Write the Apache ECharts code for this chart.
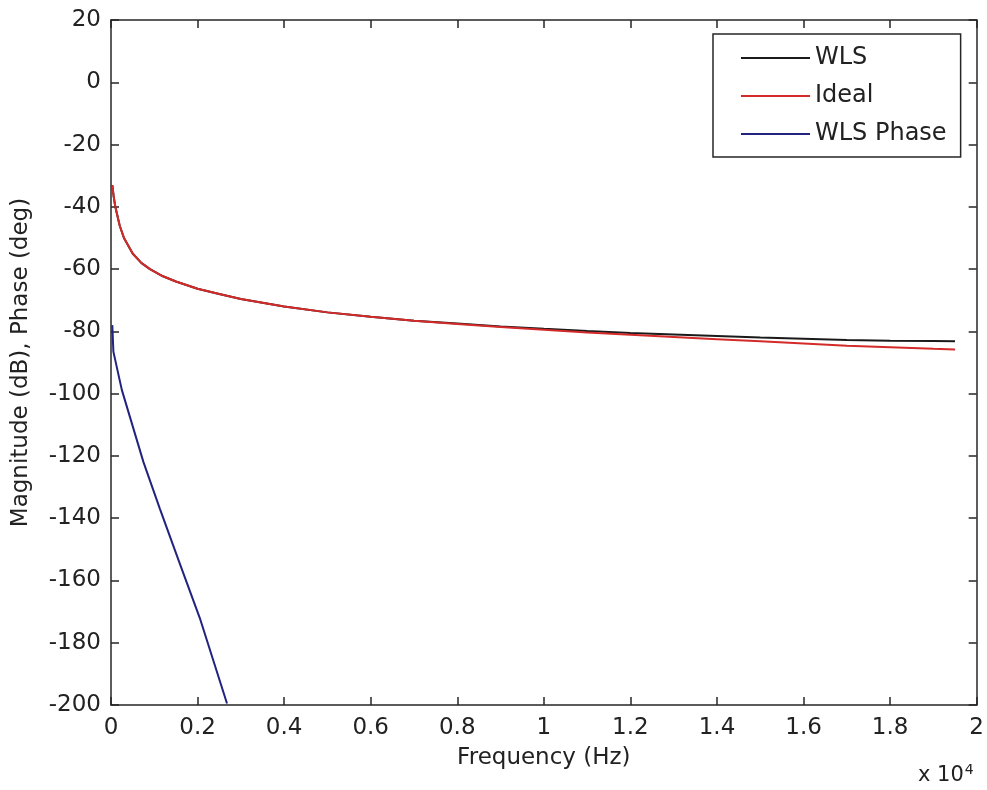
<!DOCTYPE html>
<html>
<head>
<meta charset="utf-8">
<script src="https://cdn.jsdelivr.net/npm/echarts@6/dist/echarts.min.js"></script>
<style>
html,body{margin:0;padding:0;background:#fff;}
#chart{width:987px;height:790px;}
</style>
</head>
<body>
<div id="chart"></div>
<script>
const seriesNames = ['WLS', 'Ideal', 'WLS Phase'];
const xTickLabels = ['0','0.2','0.4','0.6','0.8','1','1.2','1.4','1.6','1.8','2'];
const yTickLabels = ['-200','-180','-160','-140','-120','-100','-80','-60','-40','-20','0','20'];

const magFreq  = [30, 60, 100, 200, 300, 500, 700, 900, 1200, 1500, 2000, 2500, 3000, 4000, 5000, 6000, 7000, 8000, 9000, 10000, 11000, 12000, 13000, 14000, 15000, 16000, 17000, 18000, 19000, 19500];
const idealMag = [-33, -36.5, -40, -46, -50, -55, -58, -60, -62.3, -64, -66.3, -68, -69.6, -72, -73.9, -75.3, -76.6, -77.6, -78.6, -79.5, -80.4, -81.1, -81.8, -82.5, -83.2, -83.9, -84.6, -85.1, -85.6, -85.8];
const wlsMag   = [-33, -36.5, -40, -46, -50, -55, -58, -60, -62.3, -64, -66.3, -68, -69.6, -72, -73.9, -75.3, -76.6, -77.5, -78.4, -79.2, -79.9, -80.5, -81, -81.5, -82, -82.4, -82.8, -83, -83.1, -83.2];

const phaseFreq = [30, 55, 250, 750, 1130, 1600, 2050, 2680];
const wlsPhase  = [-78, -86.5, -98.8, -122, -137, -155, -172, -199.5];

const FONT = 'DejaVu Sans';
const TXT = '#222222';

function pairs(xs, ys) { return xs.map((x, i) => [x, ys[i]]); }

const chart = echarts.init(document.getElementById('chart'), null, {renderer: 'canvas'});

const axisLine = {show: true, onZero: false, lineStyle: {color: '#262626', width: 1.5}};
const axisTick = {show: true, inside: true, length: 8, lineStyle: {color: '#262626', width: 1.5}};

const option = {
  backgroundColor: '#ffffff',
  animation: false,
  grid: {left: 111, top: 20, right: 9, bottom: 85, containLabel: false},
  legend: {
    data: seriesNames,
    orient: 'vertical',
    left: 713, top: 34,
    icon: 'rect',
    itemWidth: 69, itemHeight: 2,
    itemGap: 10,
    padding: [10, 14, 9, 28],
    borderColor: '#262626', borderWidth: 1.5,
    backgroundColor: '#ffffff',
    textStyle: {fontFamily: FONT, fontSize: 24, color: TXT, lineHeight: 28}
  },
  xAxis: [{
    type: 'value', position: 'bottom', min: 0, max: 20000, interval: 2000,
    axisLine, axisTick, splitLine: {show: false},
    axisLabel: {fontFamily: FONT, fontSize: 23, color: TXT, margin: 12,
      formatter: v => xTickLabels[Math.round(v / 2000)]},
    name: 'Frequency (Hz)', nameLocation: 'middle', nameGap: 42,
    nameTextStyle: {fontFamily: FONT, fontSize: 23, color: TXT}
  }, {
    type: 'value', position: 'top', min: 0, max: 20000, interval: 2000,
    axisLine, axisTick, splitLine: {show: false}, axisLabel: {show: false}
  }],
  yAxis: [{
    type: 'value', position: 'left', min: -200, max: 20, interval: 20,
    axisLine, axisTick, splitLine: {show: false},
    axisLabel: {fontFamily: FONT, fontSize: 23, color: TXT, margin: 10,
      formatter: v => yTickLabels[Math.round((v + 200) / 20)]},
    name: 'Magnitude (dB), Phase (deg)', nameLocation: 'middle', nameGap: 78,
    nameTextStyle: {fontFamily: FONT, fontSize: 23, color: TXT}
  }, {
    type: 'value', position: 'right', min: -200, max: 20, interval: 20,
    axisLine, axisTick, splitLine: {show: false}, axisLabel: {show: false}
  }],
  series: [{
    name: seriesNames[0], type: 'line', data: pairs(magFreq, wlsMag),
    showSymbol: false, symbol: 'none', color: '#1a1a1a',
    lineStyle: {width: 2, color: '#1a1a1a'}, clip: true
  }, {
    name: seriesNames[1], type: 'line', data: pairs(magFreq, idealMag),
    showSymbol: false, symbol: 'none', color: '#d42a2a',
    lineStyle: {width: 2, color: '#d42a2a'}, clip: true
  }, {
    name: seriesNames[2], type: 'line', data: pairs(phaseFreq, wlsPhase),
    showSymbol: false, symbol: 'none', color: '#22227f',
    lineStyle: {width: 2, color: '#22227f'}, clip: true
  }],
  graphic: [{
    type: 'text', left: 918, top: 763,
    style: {
      text: 'x 10{sup|4}',
      font: '21px "DejaVu Sans"', fill: TXT,
      rich: {sup: {fontSize: 14, fontFamily: FONT, fill: TXT, verticalAlign: 'top', padding: [0, 0, 12, 1]}}
    }
  }]
};
chart.setOption(option);
</script>
</body>
</html>
